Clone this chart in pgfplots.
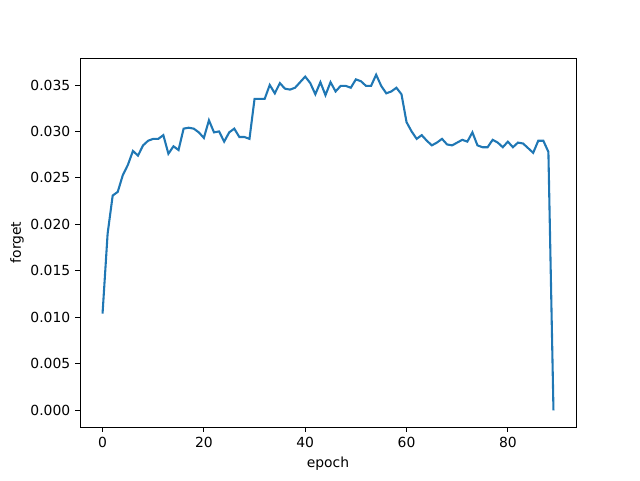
\documentclass[border=0pt]{standalone}
\usepackage{pgfplots}
\pgfplotsset{compat=1.18}
\usepackage{fontspec}
\setmainfont{DejaVu Sans}
\usetikzlibrary{calc}
\definecolor{tabblue}{HTML}{1F77B4}
\begin{document}
\begin{tikzpicture}
\begin{axis}[
  scale only axis,
  width=357.12pt, height=265.68pt,
  xmin=-4.45, xmax=93.45,
  ymin=-0.0018, ymax=0.0379,
  xtick={0,20,40,60,80},
  ytick={0,0.005,0.01,0.015,0.02,0.025,0.03,0.035},
  scaled y ticks=false,
  yticklabel style={/pgf/number format/.cd, fixed, fixed zerofill, precision=3},
  /pgf/number format/assume math mode=true,
  tick align=outside, tick pos=left,
  major tick length=3.5pt,
  xlabel={epoch}, ylabel={forget},
  ylabel style={yshift=-2pt},
  tick label style={font=\fontsize{10}{12}\selectfont},
  label style={font=\fontsize{10}{12}\selectfont},
  axis line style={line width=0.6pt},
  every tick/.style={line width=0.6pt, black},
]
\addplot[color=tabblue, line width=1.5pt, mark=none] coordinates {
(0,0.0104)(1,0.0190)(2,0.0231)(3,0.0235)(4,0.0253)(5,0.0264)(6,0.0279)(7,0.0274)(8,0.0285)(9,0.0290)
(10,0.0292)(11,0.0292)(12,0.0296)(13,0.0276)(14,0.0284)(15,0.0280)(16,0.0303)(17,0.0304)(18,0.0303)(19,0.0299)
(20,0.0293)(21,0.0312)(22,0.0299)(23,0.0300)(24,0.0289)(25,0.0299)(26,0.0303)(27,0.0294)(28,0.0294)(29,0.0292)
(30,0.0335)(31,0.0335)(32,0.0335)(33,0.0350)(34,0.0341)(35,0.0352)(36,0.0346)(37,0.0345)(38,0.0347)(39,0.0353)
(40,0.0359)(41,0.0352)(42,0.0340)(43,0.0353)(44,0.0339)(45,0.0353)(46,0.0343)(47,0.0349)(48,0.0349)(49,0.0347)
(50,0.0356)(51,0.0354)(52,0.0349)(53,0.0349)(54,0.0361)(55,0.0349)(56,0.0341)(57,0.0343)(58,0.0347)(59,0.0340)
(60,0.0310)(61,0.0300)(62,0.0292)(63,0.0296)(64,0.0290)(65,0.0285)(66,0.0288)(67,0.0292)(68,0.0286)(69,0.0285)
(70,0.0288)(71,0.0291)(72,0.0289)(73,0.0299)(74,0.0285)(75,0.0283)(76,0.0283)(77,0.0291)(78,0.0288)(79,0.0283)
(80,0.0289)(81,0.0283)(82,0.0288)(83,0.0287)(84,0.0282)(85,0.0277)(86,0.0290)(87,0.0290)(88,0.0278)(89,0.0000)
};
\end{axis}
\path ($(current axis.south west)+(-57.6pt,-38.16pt)$) rectangle ($(current axis.north east)+(46.08pt,41.76pt)$);
\end{tikzpicture}
\end{document}
